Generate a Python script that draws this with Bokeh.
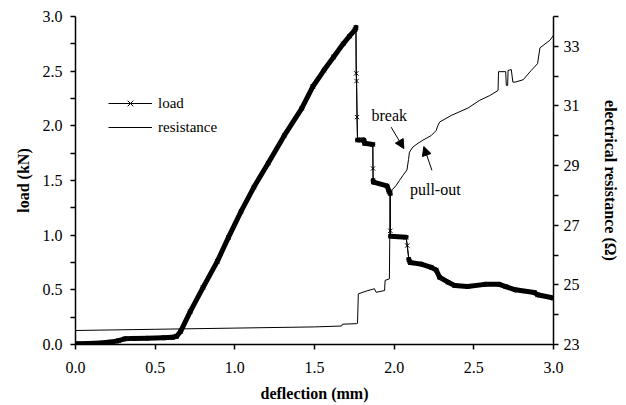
import numpy as np
from bokeh.plotting import figure
from bokeh.models import (Range1d, LinearAxis, FixedTicker, Arrow, NormalHead,
                          Legend, LegendItem, Label, PrintfTickFormatter)
from bokeh.embed import file_html
from bokeh.resources import INLINE

# ---- data ----
deflection_load = [0.00, 0.08, 0.16, 0.22, 0.27, 0.31, 0.36, 0.45, 0.55, 0.61, 0.635, 0.66,
                   0.72, 0.80, 0.89, 0.96, 1.04, 1.12, 1.21, 1.31, 1.42, 1.49, 1.56, 1.62,
                   1.68, 1.72, 1.755, 1.760, 1.762, 1.764, 1.767, 1.770, 1.81, 1.815, 1.866,
                   1.867, 1.868, 1.870, 1.955, 1.968, 1.975, 1.976, 1.977, 2.075, 2.082, 2.092,
                   2.10, 2.17, 2.233, 2.264, 2.285, 2.338, 2.38, 2.46, 2.57, 2.66, 2.70, 2.76,
                   2.88, 2.90, 3.00]
load_kN = [0.008, 0.010, 0.014, 0.022, 0.035, 0.052, 0.056, 0.058, 0.062, 0.066, 0.075, 0.12,
           0.30, 0.52, 0.76, 0.98, 1.22, 1.44, 1.66, 1.91, 2.16, 2.36, 2.51, 2.63,
           2.75, 2.82, 2.88, 2.90, 2.48, 2.41, 2.08, 1.87, 1.87, 1.84, 1.83,
           1.61, 1.50, 1.485, 1.45, 1.40, 1.38, 1.04, 0.99, 0.98, 0.905, 0.78,
           0.75, 0.735, 0.705, 0.68, 0.615, 0.57, 0.54, 0.53, 0.55, 0.55, 0.53, 0.50,
           0.475, 0.455, 0.425]

deflection_res = [0.00, 0.50, 1.00, 1.50, 1.67, 1.675, 1.765, 1.770, 1.775, 1.83, 1.876, 1.887,
                  1.94, 1.943, 1.97, 1.975, 1.99, 2.013, 2.033, 2.055, 2.08, 2.09, 2.096, 2.117,
                  2.15, 2.18, 2.233, 2.264, 2.275, 2.285, 2.358, 2.40, 2.463, 2.537, 2.60, 2.652,
                  2.655, 2.70, 2.704, 2.712, 2.715, 2.735, 2.745, 2.76, 2.81, 2.86, 2.90, 2.915,
                  2.977, 3.00]
resistance_ohm = [23.47, 23.51, 23.55, 23.59, 23.62, 23.68, 23.70, 23.71, 24.70, 24.80, 24.87, 24.75,
                  24.81, 25.15, 25.20, 28.06, 28.20, 28.34, 28.50, 28.67, 28.85, 29.20, 29.45, 29.62,
                  29.75, 29.85, 30.01, 30.18, 30.35, 30.46, 30.68, 30.78, 30.93, 31.19, 31.35, 31.52,
                  32.15, 32.15, 31.69, 31.69, 32.19, 32.22, 31.80, 31.80, 31.88, 32.19, 32.42, 32.95,
                  33.20, 33.37]

x_ticks = [0.0, 0.5, 1.0, 1.5, 2.0, 2.5, 3.0]
load_ticks = [0.0, 0.5, 1.0, 1.5, 2.0, 2.5, 3.0]
load_minor = [0.25, 0.75, 1.25, 1.75, 2.25, 2.75]
res_ticks = [23, 25, 27, 29, 31, 33]
res_minor = [24, 26, 28, 30, 32, 34]

FONT = "Liberation Serif"

p = figure(width=626, height=405, output_backend="svg", toolbar_location=None,
           x_range=Range1d(0, 3), y_range=Range1d(0, 3),
           min_border_left=75, min_border_right=73, min_border_top=16, min_border_bottom=61)
p.extra_y_ranges = {"res": Range1d(23, 34)}
p.outline_line_color = None
p.xgrid.visible = False
p.ygrid.visible = False
p.background_fill_color = "white"
p.border_fill_color = "white"

# load curve: thin connecting line, dense parts drawn as a thick band, x markers
xl = np.array(deflection_load)
yl = np.array(load_kN)
dx = np.maximum(np.diff(xl), 1e-9)
steep = np.abs(np.diff(yl)) / dx > 8
widths = np.where(steep, 1.0, 5.0)
load_line = p.line(xl, yl, line_color="black", line_width=1)
p.segment(xl[:-1], yl[:-1], xl[1:], yl[1:], line_color="black",
          line_width=widths, line_cap="round")
load_pts = p.scatter(xl, yl, marker="x", size=6, line_color="black", line_width=1)

res_line = p.line(deflection_res, resistance_ohm, y_range_name="res",
                  line_color="black", line_width=1)

# axes
def style_axis(ax):
    ax.axis_line_color = "black"
    ax.axis_line_width = 1.5
    ax.major_tick_line_color = "black"
    ax.major_tick_line_width = 1.5
    ax.minor_tick_line_color = "black"
    ax.minor_tick_line_width = 1.5
    ax.major_tick_in = 0
    ax.major_tick_out = 5
    ax.minor_tick_in = 0
    ax.minor_tick_out = 5
    ax.major_label_text_font = FONT
    ax.major_label_text_font_size = "16px"
    ax.major_label_text_color = "black"
    ax.axis_label_text_font = FONT
    ax.axis_label_text_font_size = "16px"
    ax.axis_label_text_font_style = "bold"
    ax.axis_label_text_color = "black"

xa = p.xaxis[0]
style_axis(xa)
xa.ticker = FixedTicker(ticks=x_ticks)
xa.minor_tick_line_color = None
xa.formatter = PrintfTickFormatter(format="%.1f")
xa.axis_label = "deflection (mm)"
xa.major_label_standoff = 12
xa.axis_label_standoff = 9

ya = p.yaxis[0]
style_axis(ya)
ya.ticker = FixedTicker(ticks=load_ticks, minor_ticks=load_minor)
ya.formatter = PrintfTickFormatter(format="%.1f")
ya.axis_label = "load (kN)"
ya.major_label_standoff = 8
ya.axis_label_standoff = 8

ra = LinearAxis(y_range_name="res")
style_axis(ra)
ra.ticker = FixedTicker(ticks=res_ticks, minor_ticks=res_minor)
ra.axis_label = "electrical resistance (Ω)"
ra.major_label_standoff = 5
ra.axis_label_standoff = 19
p.add_layout(ra, "right")

# legend
legend = Legend(items=[LegendItem(label="load", renderers=[load_line, load_pts]),
                       LegendItem(label="resistance", renderers=[res_line])],
                location=(33, 207), border_line_color=None, background_fill_alpha=0,
                glyph_width=44, glyph_height=20, label_height=20, label_standoff=6,
                padding=0, margin=0, spacing=4,
                label_text_font=FONT, label_text_font_size="15px", label_text_color="black")
p.add_layout(legend)

# annotations
for txt, x, y in [("break", 1.969, 30.68), ("pull-out", 2.258, 28.20)]:
    p.add_layout(Label(x=x, y=y, y_range_name="res", text=txt, text_font=FONT,
                       text_font_size="16px", text_color="black",
                       text_align="center", text_baseline="middle"))

for xs, ys, xe, ye in [(1.981, 30.29, 2.061, 29.57), (2.237, 28.84, 2.186, 29.64)]:
    p.add_layout(Arrow(end=NormalHead(size=9, fill_color="black", line_color="black"),
                       x_start=xs, y_start=ys, x_end=xe, y_end=ye, y_range_name="res",
                       line_color="black", line_width=1))

open("out.html", "w").write(file_html(p, INLINE))
